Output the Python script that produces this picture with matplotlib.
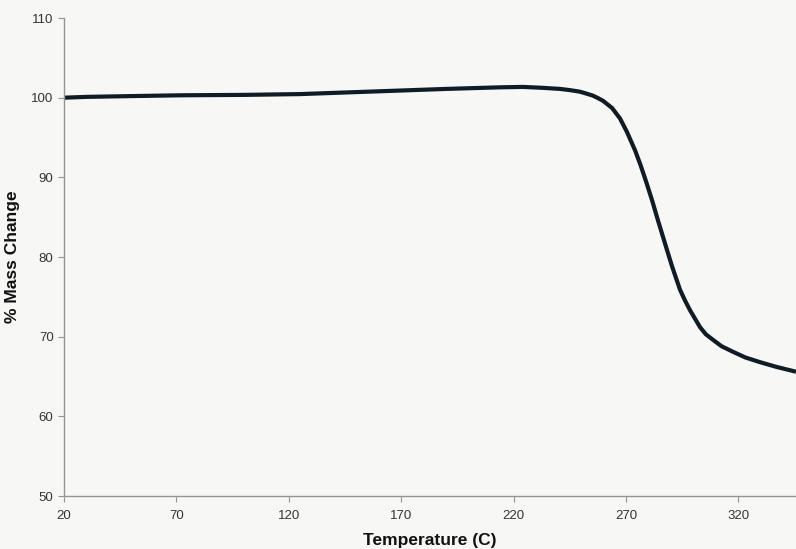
import matplotlib
matplotlib.use('Agg')
import matplotlib.pyplot as plt

# Thermogravimetric curve
temperature = [20, 30, 50, 72, 100, 125, 150, 170, 190, 214, 224, 232, 240.6, 245, 249.5,
               252.5, 255.3, 257.5, 259.8, 263.8, 267.3, 270.4, 274, 276.5, 279, 281.6,
               284.2, 288.2, 290.5, 294, 296.3, 298.5, 302.9, 305.5, 308.7, 312.5, 317.6,
               323, 329.6, 337, 345.6]
mass_change = [100.0, 100.1, 100.2, 100.3, 100.35, 100.45, 100.7, 100.9, 101.1, 101.3, 101.35,
               101.25, 101.1, 100.95, 100.75, 100.5, 100.25, 99.95, 99.6, 98.7, 97.4, 95.7,
               93.4, 91.5, 89.4, 87.1, 84.6, 80.9, 78.8, 75.9, 74.5, 73.3, 71.2, 70.3, 69.6,
               68.8, 68.1, 67.4, 66.8, 66.2, 65.6]

x_ticks = [20, 70, 120, 170, 220, 270, 320]
y_ticks = [50, 60, 70, 80, 90, 100, 110]

plt.rcParams['font.family'] = ['Liberation Sans', 'DejaVu Sans']

fig = plt.figure(figsize=(7.96, 5.49), dpi=100)
fig.patch.set_facecolor('#f7f7f6')
ax = fig.add_axes([0.0804, 0.0965, 0.9196, 0.8707])
ax.set_facecolor('#f7f7f6')

ax.plot(temperature, mass_change, color='#0f1c26', linewidth=3.0,
        solid_joinstyle='round', solid_capstyle='butt')

ax.set_xlim(20, 345.6)
ax.set_ylim(50, 110)
ax.set_xticks(x_ticks)
ax.set_yticks(y_ticks)

for side in ['top', 'right']:
    ax.spines[side].set_visible(False)
for side in ['left', 'bottom']:
    ax.spines[side].set_color('#9a948e')
    ax.spines[side].set_linewidth(1.0)

ax.tick_params(axis='both', colors='#9a948e', labelcolor='#333333', labelsize=9.5,
               length=4, width=0.8, direction='out')
ax.tick_params(axis='x', pad=6)
ax.tick_params(axis='y', pad=3.5)

ax.set_xlabel('Temperature (C)', fontsize=12.5, fontweight='bold', color='#111111')
ax.set_ylabel('% Mass Change', fontsize=12.5, fontweight='bold', color='#111111')
ax.xaxis.set_label_coords(0.5, -0.077)
ax.yaxis.set_label_coords(-0.060, 0.5)

fig.savefig('out.png', dpi=100, facecolor=fig.get_facecolor())
